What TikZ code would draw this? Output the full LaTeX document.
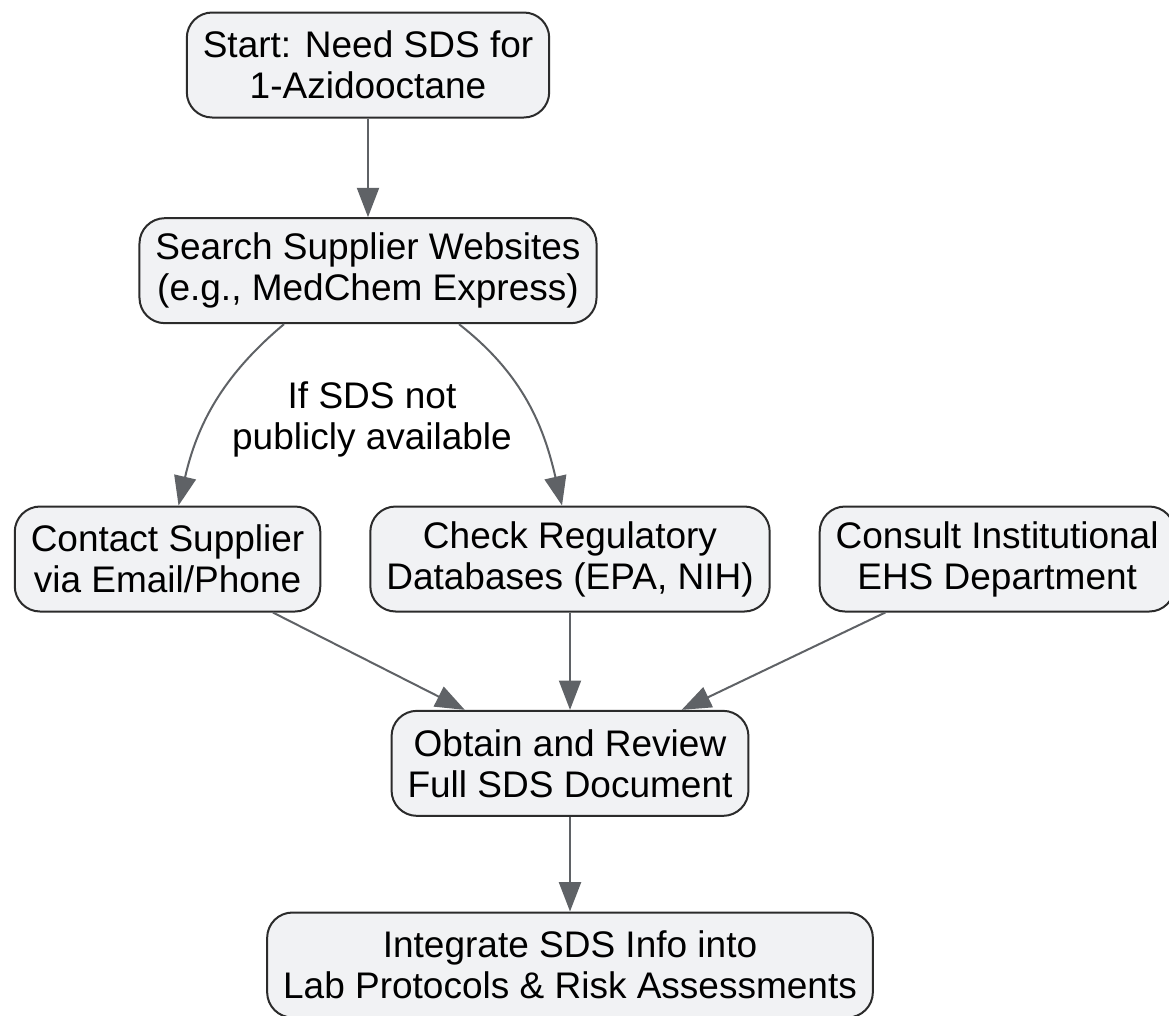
\documentclass[tikz,border=0pt]{standalone}
\usepackage{fontspec}
\setmainfont{Liberation Sans}
\usetikzlibrary{positioning,arrows.meta}
\definecolor{boxfill}{HTML}{F1F2F4}
\definecolor{boxline}{HTML}{2B2B2B}
\definecolor{edgegray}{HTML}{5F6266}

\begin{document}
\begin{tikzpicture}[x=0.75pt, y=0.75pt,
        box/.style={draw=boxline, line width=1.5pt, fill=boxfill, rounded corners=19pt,
            align=center, inner xsep=12pt, inner ysep=4pt, minimum height=78.75pt},
        edge/.style={->, draw=edgegray, line width=1.5pt},
        >={Triangle[length=22pt, width=16.5pt]},
        font=\fontsize{27.75pt}{30.75pt}\selectfont]
    \useasboundingbox (0,0) rectangle (1169,-1015);
    \node[box] (start) at (368,-65) {Start: Need SDS for\\1-Azidooctane};
    \node[box, below=74pt of start] (search) {Search Supplier Websites\\(e.g., MedChem Express)};
    \node[box] (check) at (570,-559) {Check Regulatory\\Databases (EPA, NIH)};
    \node[box, left=36pt of check] (contact) {Contact Supplier\\via Email/Phone};
    \node[box, right=36pt of check] (consult) {Consult Institutional\\EHS Department};
    \node[box, below=73pt of check] (obtain) {Obtain and Review\\Full SDS Document};
    \node[box, below=71pt of obtain] (integrate) {Integrate SDS Info into\\Lab Protocols \& Risk Assessments};
    \node[align=center] (cond) at (372,-419) {If SDS not\\publicly available};
    \draw[edge] (start) -- (search);
    \draw[edge] ([xshift=-63pt]search.south) to[out=220, in=77] ([xshift=8.25pt]contact.north);
    \draw[edge] ([xshift=68.25pt]search.south) to[out=-38, in=103] ([xshift=-6pt]check.north);
    \draw[edge] (contact) -- (obtain);
    \draw[edge] (check) -- (obtain);
    \draw[edge] (consult) -- (obtain);
    \draw[edge] (obtain) -- (integrate);
\end{tikzpicture}
\end{document}
